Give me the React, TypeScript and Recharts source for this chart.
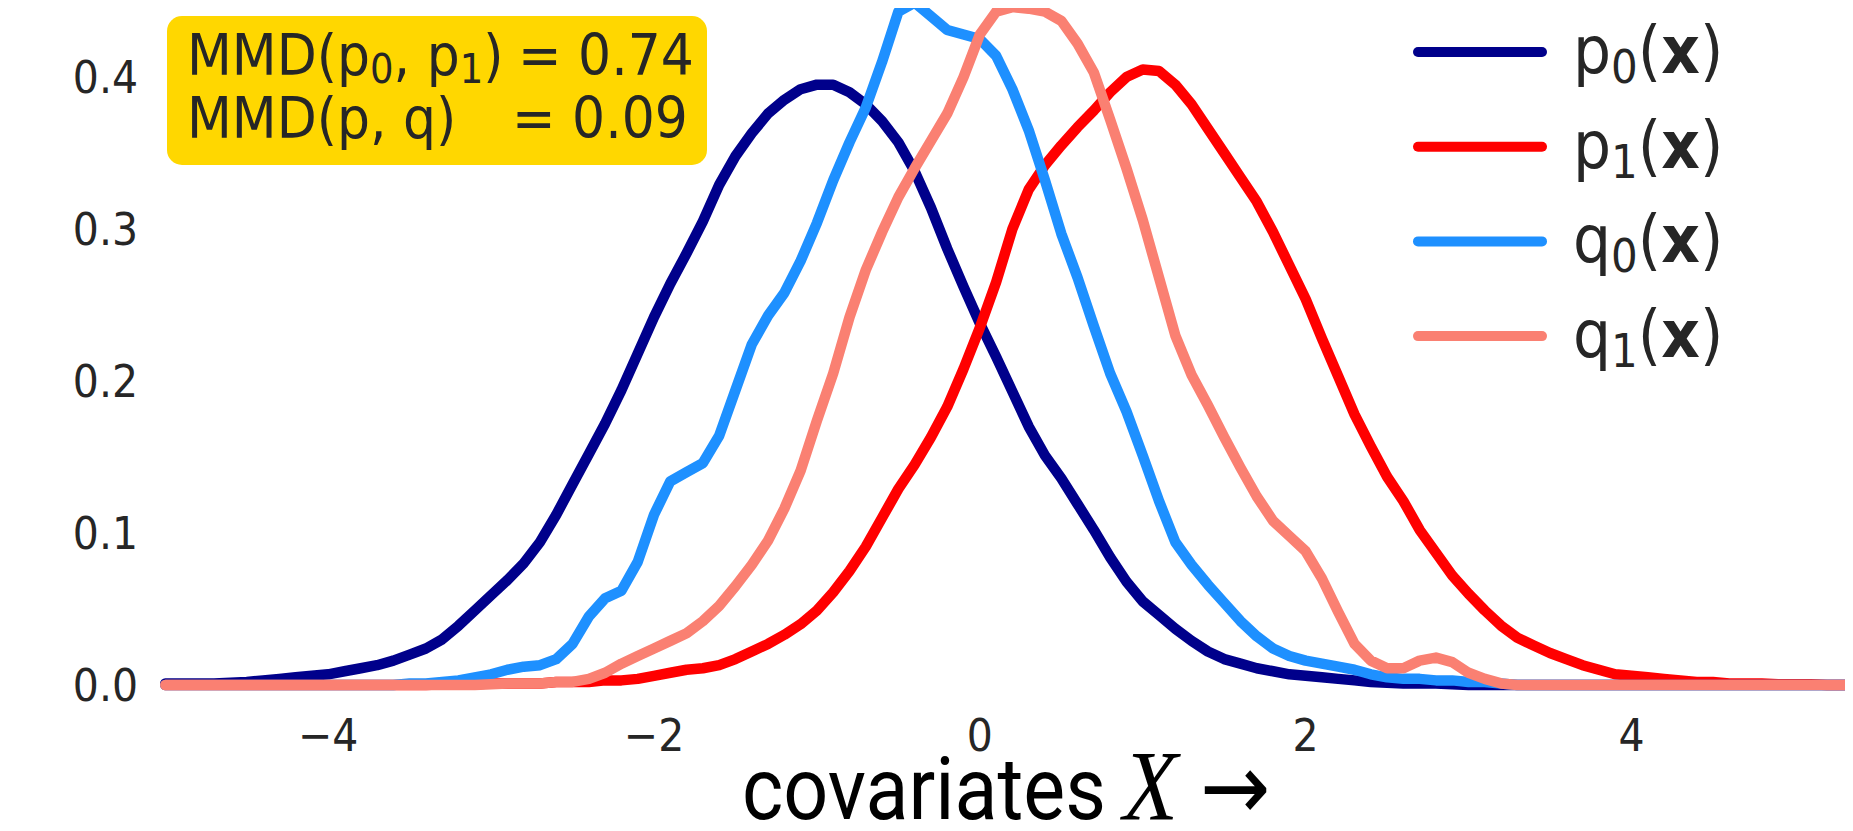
import { LineChart, Line, XAxis, YAxis, Customized } from 'recharts'

// grid of covariate values
const xs = [
  -5.0, -4.9, -4.8, -4.7, -4.6, -4.5, -4.4, -4.3, -4.2, -4.1,
  -4.0, -3.9, -3.8, -3.7, -3.6, -3.5, -3.4, -3.3, -3.2, -3.1,
  -3.0, -2.9, -2.8, -2.7, -2.6, -2.5, -2.4, -2.3, -2.2, -2.1,
  -2.0, -1.9, -1.8, -1.7, -1.6, -1.5, -1.4, -1.3, -1.2, -1.1,
  -1.0, -0.9, -0.8, -0.7, -0.6, -0.5, -0.4, -0.3, -0.2, -0.1,
  0.0, 0.1, 0.2, 0.3, 0.4, 0.5, 0.6, 0.7, 0.8, 0.9,
  1.0, 1.1, 1.2, 1.3, 1.4, 1.5, 1.6, 1.7, 1.8, 1.9,
  2.0, 2.1, 2.2, 2.3, 2.4, 2.5, 2.6, 2.7, 2.8, 2.9,
  3.0, 3.1, 3.2, 3.3, 3.4, 3.5, 3.6, 3.7, 3.8, 3.9,
  4.0, 4.1, 4.2, 4.3, 4.4, 4.5, 4.6, 4.7, 4.8, 4.9,
  5.0, 5.1, 5.2, 5.3, 5.4, 5.5,
]

const p0 = [
  0.001, 0.001, 0.001, 0.001, 0.0015, 0.002, 0.003, 0.004, 0.005, 0.006,
  0.007, 0.009, 0.011, 0.013, 0.016, 0.020, 0.024, 0.030, 0.039, 0.049,
  0.059, 0.069, 0.080, 0.094, 0.112, 0.132, 0.152, 0.172, 0.194, 0.218,
  0.242, 0.264, 0.284, 0.305, 0.329, 0.348, 0.363, 0.376, 0.385, 0.392,
  0.395, 0.395, 0.390, 0.382, 0.371, 0.357, 0.338, 0.314, 0.287, 0.262,
  0.238, 0.216, 0.193, 0.170, 0.151, 0.136, 0.119, 0.102, 0.084, 0.068,
  0.055, 0.046, 0.037, 0.029, 0.022, 0.017, 0.014, 0.011, 0.009, 0.007,
  0.006, 0.005, 0.004, 0.003, 0.002, 0.0015, 0.001, 0.001, 0.001, 0.0005,
  0, 0, 0, 0, 0, 0, 0, 0, 0, 0,
  0, 0, 0, 0, 0, 0, 0, 0, 0, 0,
  0, 0, 0, 0, 0, 0,
]

const p1 = [
  0, 0, 0, 0, 0, 0, 0, 0, 0, 0,
  0, 0, 0, 0, 0, 0, 0, 0.0005, 0.0005, 0.0005,
  0.001, 0.001, 0.001, 0.001, 0.002, 0.002, 0.002, 0.003, 0.003, 0.004,
  0.006, 0.008, 0.010, 0.011, 0.013, 0.017, 0.022, 0.027, 0.033, 0.040,
  0.049, 0.061, 0.075, 0.091, 0.110, 0.129, 0.145, 0.163, 0.183, 0.208,
  0.235, 0.265, 0.300, 0.326, 0.342, 0.355, 0.367, 0.378, 0.390, 0.400,
  0.405, 0.404, 0.395, 0.382, 0.366, 0.350, 0.334, 0.318, 0.298, 0.276,
  0.254, 0.228, 0.203, 0.178, 0.157, 0.137, 0.121, 0.102, 0.087, 0.072,
  0.060, 0.049, 0.039, 0.031, 0.026, 0.021, 0.017, 0.013, 0.010, 0.007,
  0.006, 0.005, 0.004, 0.003, 0.002, 0.002, 0.001, 0.001, 0.001, 0.0005,
  0.0005, 0.0005, 0, 0, 0, 0,
]

const q0 = [
  0, 0, 0, 0, 0, 0, 0, 0, 0, 0,
  0, 0, 0, 0, 0, 0.001, 0.001, 0.002, 0.003, 0.005,
  0.007, 0.010, 0.012, 0.013, 0.017, 0.027, 0.045, 0.057, 0.062, 0.081,
  0.112, 0.134, 0.140, 0.146, 0.164, 0.194, 0.224, 0.243, 0.258, 0.279,
  0.304, 0.332, 0.357, 0.380, 0.410, 0.443, 0.449, 0.440, 0.431, 0.428,
  0.425, 0.414, 0.392, 0.365, 0.332, 0.297, 0.268, 0.236, 0.205, 0.180,
  0.151, 0.121, 0.094, 0.079, 0.066, 0.054, 0.042, 0.032, 0.024, 0.019,
  0.016, 0.014, 0.012, 0.010, 0.007, 0.005, 0.004, 0.004, 0.003, 0.003,
  0.002, 0.002, 0.001, 0, 0, 0, 0, 0, 0, 0,
  0, 0, 0, 0, 0, 0, 0, 0, 0, 0,
  0, 0, 0, 0, 0, 0,
]

const q1 = [
  0, 0, 0, 0, 0, 0, 0, 0, 0, 0,
  0, 0, 0, 0, 0, 0, 0, 0, 0, 0,
  0.0005, 0.001, 0.001, 0.001, 0.002, 0.002, 0.004, 0.008, 0.014, 0.019,
  0.024, 0.029, 0.034, 0.042, 0.052, 0.065, 0.079, 0.095, 0.116, 0.141,
  0.174, 0.205, 0.242, 0.273, 0.298, 0.321, 0.340, 0.358, 0.376, 0.400,
  0.428, 0.443, 0.446, 0.445, 0.443, 0.437, 0.422, 0.403, 0.372, 0.340,
  0.306, 0.268, 0.230, 0.204, 0.184, 0.163, 0.143, 0.124, 0.108, 0.098,
  0.088, 0.070, 0.048, 0.027, 0.016, 0.011, 0.011, 0.016, 0.018, 0.015,
  0.008, 0.004, 0.001, 0, 0, 0, 0, 0, 0, 0,
  0, 0, 0, 0, 0, 0, 0, 0, 0, 0,
  0, 0, 0, 0, 0, 0,
]

const xTicks = [-4, -2, 0, 2, 4]
const yTicks = [0, 0.1, 0.2, 0.3, 0.4]

const mmdLines = [
  { label: ['MMD(p', '0', ', p', '1', ')'], value: '0.74' },
  { label: ['MMD(p, q)'], value: '0.09' },
]

const series = [
  { key: 'p0', base: 'p', sub: '0', color: '#00008B' },
  { key: 'p1', base: 'p', sub: '1', color: '#FF0000' },
  { key: 'q0', base: 'q', sub: '0', color: '#1E90FF' },
  { key: 'q1', base: 'q', sub: '1', color: '#FA8072' },
]

const data = xs.map((x, i) => ({ x, p0: p0[i], p1: p1[i], q0: q0[i], q1: q1[i] }))

const TEXT = '#262626'
const FONT = 'DejaVu Sans'
const STRETCH = 1.1 // the source glyphs are a bit taller than wide

const fmtX = (v: number) => (v < 0 ? `\u2212${Math.abs(v)}` : `${v}`)

// text drawn with its baseline at (x, y), stretched vertically
const tall = (x: number, y: number) => `translate(${x},${y}) scale(1,${STRETCH})`

function XTick(props: any) {
  const { x, y, payload } = props
  return (
    <text transform={tall(x, y + 30)} textAnchor="middle" fontSize={41} fill={TEXT} fontFamily={FONT}>
      {fmtX(payload.value)}
    </text>
  )
}

function YTick(props: any) {
  const { x, y, payload } = props
  return (
    <text transform={tall(x, y + 16)} textAnchor="end" fontSize={41} fill={TEXT} fontFamily={FONT}>
      {Number(payload.value).toFixed(1)}
    </text>
  )
}

function MmdBox() {
  return (
    <g>
      <rect x={167} y={16} width={540} height={149} rx={15} fill="#FFD700" />
      {mmdLines.map((l, i) => {
        const y = 75 + i * 63
        return (
          <g key={i}>
            <text transform={tall(187, y)} fontSize={52} fill={TEXT} fontFamily={FONT}>
              {l.label.map((part, j) =>
                j % 2 === 1 ? (
                  <tspan key={j} fontSize={37} dy={7}>{part}</tspan>
                ) : (
                  <tspan key={j} dy={j > 0 ? -7 : 0}>{part}</tspan>
                )
              )}
            </text>
            <text transform={tall(i === 0 ? 518 : 512, y)} fontSize={52} fill={TEXT} fontFamily={FONT}>
              {'= ' + l.value}
            </text>
          </g>
        )
      })}
    </g>
  )
}

function LegendBlock() {
  return (
    <g>
      {series.map((s, i) => {
        const y = 52 + i * 94.7
        return (
          <g key={s.key}>
            <line x1={1418} x2={1542} y1={y} y2={y} stroke={s.color} strokeWidth={10} strokeLinecap="round" />
            <text transform={tall(1573, y + 21)} fontSize={60} fill={TEXT} fontFamily={FONT}>
              {s.base}
              <tspan fontSize={42} dy={9}>{s.sub}</tspan>
              <tspan dy={-9}>(</tspan>
              <tspan fontWeight="bold">x</tspan>
              <tspan>)</tspan>
            </text>
          </g>
        )
      })}
    </g>
  )
}

function XLabel() {
  return (
    <g fill="#000000">
      <text transform={tall(742, 819)} fontSize={79} fontFamily="Roboto">covariates</text>
      <text transform={tall(1123, 819)} fontSize={90} fontFamily="Liberation Serif" fontStyle="italic">X</text>
      <text transform={tall(1200, 819)} fontSize={84} fontFamily={FONT}>{'\u2192'}</text>
    </g>
  )
}

export default function App() {
  return (
    <div style={{ margin: -8, width: 1853, height: 831, overflow: 'hidden', background: '#ffffff' }}>
      <LineChart width={1853} height={831} data={data} margin={{ top: 0, right: 0, bottom: 0, left: 0 }}>
        <XAxis
          dataKey="x"
          type="number"
          domain={[-5.1, 5.36]}
          allowDataOverflow
          ticks={xTicks}
          axisLine={false}
          tickLine={false}
          tickSize={0}
          tickMargin={16}
          height={126}
          tick={<XTick />}
        />
        <YAxis
          type="number"
          domain={[-0.0132, 0.4507]}
          allowDataOverflow
          ticks={yTicks}
          axisLine={false}
          tickLine={false}
          tickSize={0}
          tickMargin={11}
          width={149}
          tick={<YTick />}
        />
        {series.map((s) => (
          <Line
            key={s.key}
            dataKey={s.key}
            type="linear"
            stroke={s.color}
            strokeWidth={10.5}
            strokeLinecap="round"
            strokeLinejoin="round"
            dot={false}
            activeDot={false}
            isAnimationActive={false}
          />
        ))}
        <Customized component={MmdBox} />
        <Customized component={LegendBlock} />
        <Customized component={XLabel} />
      </LineChart>
    </div>
  )
}
